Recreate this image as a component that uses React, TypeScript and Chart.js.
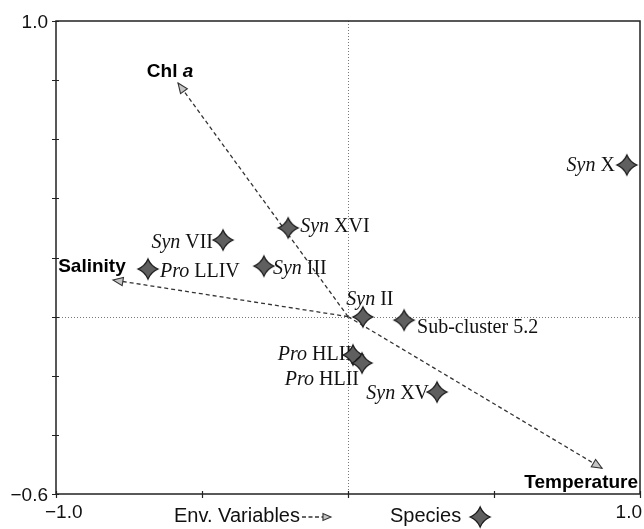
import React, { useEffect, useRef } from "react";
import { Chart, registerables } from "chart.js";

Chart.register(...registerables);

// ---------- data ----------
const speciesItalic = ["Syn", "Syn", "Syn", "Pro", "Syn", "Syn", "", "Pro", "Pro", "Syn"];
const speciesName = ["X", "XVI", "VII", "LLIV", "III", "II", "Sub-cluster 5.2", "HLII", "HLII", "XV"];
const speciesX = [0.955, -0.205, -0.428, -0.685, -0.288, 0.051, 0.192, 0.017, 0.048, 0.305];
const speciesY = [0.513, 0.3, 0.259, 0.161, 0.171, -0.001, -0.012, -0.13, -0.157, -0.255];

const envName = ["Chl", "Salinity", "Temperature"];
const envNameItalic = ["a", "", ""];
const envX = [-0.582, -0.805, 0.87];
const envY = [0.79, 0.124, -0.513];

const xTickValues = [-1, -0.5, 0, 0.5, 1];
const xTickLabels = ["\u22121.0", "", "", "", "1.0"];
const yTickValues = [-0.6, -0.4, -0.2, 0, 0.2, 0.4, 0.6, 0.8, 1.0];
const yTickLabels = ["\u22120.6", "", "", "", "", "", "", "", "1.0"];

const legendEnv = "Env. Variables";
const legendSpecies = "Species";

// ---------- layout (label offsets in pixels) ----------
const speciesLabelLayout = [
  { dx: -12, dy: 0, align: "right" },
  { dx: 12, dy: -2, align: "left" },
  { dx: -10, dy: 1, align: "right" },
  { dx: 12, dy: 1, align: "left" },
  { dx: 9, dy: 1, align: "left" },
  { dx: 7, dy: -18, align: "center" },
  { dx: 13, dy: 6, align: "left" },
  { dx: -1, dy: -2, align: "right" },
  { dx: -3, dy: 15, align: "right" },
  { dx: -8, dy: 0, align: "right" },
];
const envLabelLayout = [
  { dx: -8, dy: -6, align: "center" },
  { dx: -21, dy: -8, align: "center" },
  { dx: 36, dy: 20, align: "right" },
];

const SANS = '"Liberation Sans", Arial, sans-serif';
const SERIF = '"Liberation Serif", "Times New Roman", serif';
const STAR_R = 10;

function starPath(ctx: CanvasRenderingContext2D, cx: number, cy: number, r: number) {
  const c = r * 0.3;
  ctx.beginPath();
  ctx.moveTo(cx, cy - r);
  ctx.quadraticCurveTo(cx + c, cy - c, cx + r, cy);
  ctx.quadraticCurveTo(cx + c, cy + c, cx, cy + r);
  ctx.quadraticCurveTo(cx - c, cy + c, cx - r, cy);
  ctx.quadraticCurveTo(cx - c, cy - c, cx, cy - r);
  ctx.closePath();
}

function drawStar(ctx: CanvasRenderingContext2D, cx: number, cy: number, r: number) {
  starPath(ctx, cx, cy, r);
  ctx.fillStyle = "#5f5f5f";
  ctx.fill();
  ctx.lineWidth = 1.3;
  ctx.strokeStyle = "#1a1a1a";
  ctx.stroke();
}

function makeStar(r: number): HTMLCanvasElement {
  const s = Math.ceil(r * 2 + 4);
  const c = document.createElement("canvas");
  c.width = s;
  c.height = s;
  const ctx = c.getContext("2d")!;
  drawStar(ctx, s / 2, s / 2, r);
  return c;
}

function drawArrowHead(ctx: CanvasRenderingContext2D, x0: number, y0: number, x1: number, y1: number, len: number, half: number) {
  const a = Math.atan2(y1 - y0, x1 - x0);
  const bx = x1 - Math.cos(a) * len;
  const by = y1 - Math.sin(a) * len;
  const px = -Math.sin(a) * half;
  const py = Math.cos(a) * half;
  ctx.beginPath();
  ctx.moveTo(x1, y1);
  ctx.lineTo(bx + px, by + py);
  ctx.lineTo(bx - px, by - py);
  ctx.closePath();
  ctx.setLineDash([]);
  ctx.fillStyle = "#c4c4c4";
  ctx.fill();
  ctx.lineWidth = 1.1;
  ctx.strokeStyle = "#333";
  ctx.stroke();
}

function drawMixed(
  ctx: CanvasRenderingContext2D,
  italic: string,
  regular: string,
  x: number,
  y: number,
  align: string,
  fi: string,
  fr: string
) {
  ctx.font = fi;
  const wi = italic ? ctx.measureText(italic).width : 0;
  ctx.font = fr;
  const wr = regular ? ctx.measureText(regular).width : 0;
  const total = wi + wr;
  const sx = align === "left" ? x : align === "right" ? x - total : x - total / 2;
  ctx.textAlign = "left";
  ctx.textBaseline = "alphabetic";
  if (italic) {
    ctx.font = fi;
    ctx.fillText(italic, sx, y);
  }
  if (regular) {
    ctx.font = fr;
    ctx.fillText(regular, sx + wi, y);
  }
}

const decorPlugin = {
  id: "decor",
  beforeDatasetsDraw(chart: any) {
    const ctx: CanvasRenderingContext2D = chart.ctx;
    const xs = chart.scales.x;
    const ys = chart.scales.y;
    const a = chart.chartArea;
    ctx.save();
    // dotted zero lines
    ctx.strokeStyle = "#777";
    ctx.lineWidth = 1;
    ctx.setLineDash([1, 2]);
    const x0 = Math.round(xs.getPixelForValue(0)) + 0.5;
    const y0 = Math.round(ys.getPixelForValue(0)) + 0.5;
    ctx.beginPath();
    ctx.moveTo(x0, a.top);
    ctx.lineTo(x0, a.bottom);
    ctx.moveTo(a.left, y0);
    ctx.lineTo(a.right, y0);
    ctx.stroke();
    ctx.setLineDash([]);
    // species labels
    ctx.fillStyle = "#111";
    for (let i = 0; i < speciesX.length; i++) {
      const px = xs.getPixelForValue(speciesX[i]);
      const py = ys.getPixelForValue(speciesY[i]);
      const L = speciesLabelLayout[i];
      const reg = speciesItalic[i] ? " " + speciesName[i] : speciesName[i];
      drawMixed(ctx, speciesItalic[i], reg, px + L.dx, py + L.dy + 6.5, L.align, `italic 20px ${SERIF}`, `20px ${SERIF}`);
    }
    ctx.restore();
  },
  afterDatasetsDraw(chart: any) {
    const ctx: CanvasRenderingContext2D = chart.ctx;
    const xs = chart.scales.x;
    const ys = chart.scales.y;
    ctx.save();
    const ox = xs.getPixelForValue(0);
    const oy = ys.getPixelForValue(0);
    // arrow heads and env labels
    for (let i = 0; i < envX.length; i++) {
      const tx = xs.getPixelForValue(envX[i]);
      const ty = ys.getPixelForValue(envY[i]);
      drawArrowHead(ctx, ox, oy, tx, ty, 10, 4.2);
      const L = envLabelLayout[i];
      ctx.fillStyle = "#000";
      const reg = envName[i] + (envNameItalic[i] ? " " : "");
      ctx.font = `bold 19px ${SANS}`;
      const w1 = ctx.measureText(reg).width;
      ctx.font = `italic bold 19px ${SANS}`;
      const w2 = envNameItalic[i] ? ctx.measureText(envNameItalic[i]).width : 0;
      const total = w1 + w2;
      const bx = tx + L.dx;
      const sx = L.align === "left" ? bx : L.align === "right" ? bx - total : bx - total / 2;
      ctx.textAlign = "left";
      ctx.textBaseline = "alphabetic";
      ctx.font = `bold 19px ${SANS}`;
      ctx.fillText(reg, sx, ty + L.dy);
      if (envNameItalic[i]) {
        ctx.font = `italic bold 19px ${SANS}`;
        ctx.fillText(envNameItalic[i], sx + w1, ty + L.dy);
      }
    }
    ctx.restore();
  },
  afterDraw(chart: any) {
    const ctx: CanvasRenderingContext2D = chart.ctx;
    const xs = chart.scales.x;
    const ys = chart.scales.y;
    const a = chart.chartArea;
    ctx.save();
    ctx.setLineDash([]);
    // axes box
    ctx.strokeStyle = "#222";
    ctx.lineWidth = 1.5;
    ctx.strokeRect(a.left, a.top, a.right - a.left, a.bottom - a.top);
    // ticks
    ctx.lineWidth = 1.2;
    ctx.beginPath();
    for (const v of yTickValues) {
      const py = Math.round(ys.getPixelForValue(v)) + 0.5;
      ctx.moveTo(a.left - 4, py);
      ctx.lineTo(a.left + 3, py);
    }
    for (const v of xTickValues) {
      const px = Math.round(xs.getPixelForValue(v)) + 0.5;
      ctx.moveTo(px, a.bottom - 3);
      ctx.lineTo(px, a.bottom + 4);
    }
    ctx.stroke();
    // tick labels
    ctx.fillStyle = "#111";
    ctx.font = `19px ${SANS}`;
    ctx.textBaseline = "alphabetic";
    ctx.textAlign = "right";
    for (let i = 0; i < yTickValues.length; i++) {
      if (!yTickLabels[i]) continue;
      const py = ys.getPixelForValue(yTickValues[i]);
      ctx.fillText(yTickLabels[i], a.left - 8, py + 7);
    }
    for (let i = 0; i < xTickValues.length; i++) {
      if (!xTickLabels[i]) continue;
      const px = xs.getPixelForValue(xTickValues[i]);
      if (i === 0) {
        ctx.textAlign = "left";
        ctx.fillText(xTickLabels[i], px - 11, a.bottom + 24);
      } else {
        ctx.textAlign = "right";
        ctx.fillText(xTickLabels[i], px + 2, a.bottom + 24);
      }
    }
    // legend
    const ly = a.bottom + 28;
    ctx.font = `20px ${SANS}`;
    ctx.textAlign = "left";
    ctx.fillText(legendEnv, 174, ly);
    const ew = ctx.measureText(legendEnv).width;
    const lx0 = 174 + ew + 2;
    ctx.strokeStyle = "#333";
    ctx.lineWidth = 1.3;
    ctx.setLineDash([4, 2.5]);
    ctx.beginPath();
    ctx.moveTo(lx0, ly - 5);
    ctx.lineTo(lx0 + 22, ly - 5);
    ctx.stroke();
    drawArrowHead(ctx, lx0, ly - 5, lx0 + 29, ly - 5, 8, 3.5);
    ctx.fillStyle = "#111";
    ctx.fillText(legendSpecies, 390, ly);
    const sw = ctx.measureText(legendSpecies).width;
    drawStar(ctx, 390 + sw + 19, ly - 5, STAR_R);
    ctx.restore();
  },
};

export default function App() {
  const ref = useRef<HTMLCanvasElement>(null);
  useEffect(() => {
    document.body.style.margin = "0";
    const canvas = ref.current!;
    const star = makeStar(STAR_R);
    const datasets: any[] = [
      {
        label: "Species",
        data: speciesX.map((x, i) => ({ x, y: speciesY[i] })),
        pointStyle: star,
        pointRadius: STAR_R,
        showLine: false,
        order: 0,
      },
    ];
    for (let i = 0; i < envX.length; i++) {
      datasets.push({
        label: envName[i],
        data: [
          { x: 0, y: 0 },
          { x: envX[i], y: envY[i] },
        ],
        showLine: true,
        borderColor: "#333",
        borderWidth: 1.3,
        borderDash: [4, 3],
        pointRadius: 0,
        fill: false,
        order: 1,
      });
    }
    const chart = new Chart(canvas, {
      type: "scatter",
      data: { datasets },
      options: {
        responsive: false,
        maintainAspectRatio: false,
        animation: false,
        devicePixelRatio: 1,
        events: [],
        layout: { autoPadding: false, padding: { left: 56, right: 4, top: 21, bottom: 35 } },
        scales: {
          x: { type: "linear", min: -1, max: 1, display: false },
          y: { type: "linear", min: -0.6, max: 1, display: false },
        },
        plugins: { legend: { display: false }, tooltip: { enabled: false } },
      },
      plugins: [decorPlugin],
    } as any);
    return () => chart.destroy();
  }, []);
  return (
    <canvas
      ref={ref}
      width={644}
      height={529}
      style={{ position: "fixed", left: 0, top: 0, display: "block", background: "#fff" }}
    />
  );
}
